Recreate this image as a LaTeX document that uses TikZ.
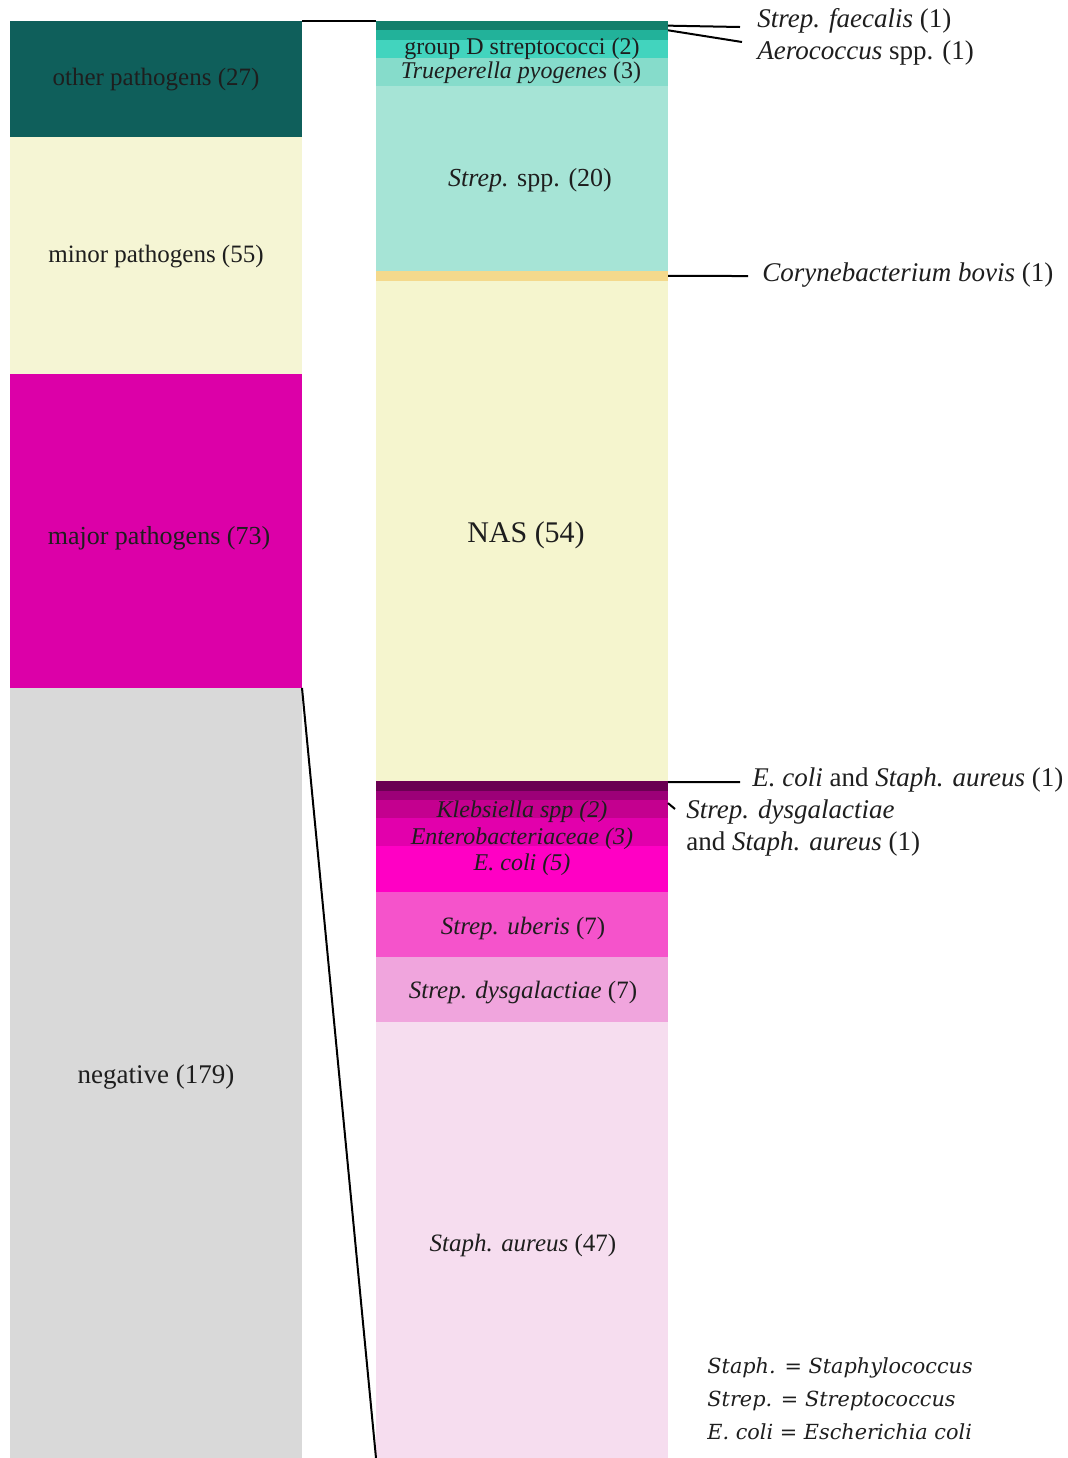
\documentclass[tikz,border=0pt]{standalone}
\usepackage{fontspec}
\setmainfont{Liberation Serif}
\newfontfamily\legendfont{DejaVu Serif}
\usepackage{tikz}
\usetikzlibrary{positioning}

\definecolor{cOther}{HTML}{0F5F5B}
\definecolor{cMinor}{HTML}{F5F5D4}
\definecolor{cMajor}{HTML}{DC00A8}
\definecolor{cNeg}{HTML}{D9D9D9}
\definecolor{cFaec}{HTML}{137F6C}
\definecolor{cAero}{HTML}{22B29A}
\definecolor{cGrpD}{HTML}{42D4BE}
\definecolor{cTrue}{HTML}{86DCCB}
\definecolor{cStrep}{HTML}{A6E4D6}
\definecolor{cCory}{HTML}{F4D98C}
\definecolor{cNAS}{HTML}{F5F5CE}
\definecolor{cEcSa}{HTML}{6A0052}
\definecolor{cSdSa}{HTML}{9C0078}
\definecolor{cKleb}{HTML}{C4008F}
\definecolor{cEnt}{HTML}{E200AC}
\definecolor{cEcoli}{HTML}{FF00C4}
\definecolor{cUber}{HTML}{F553CB}
\definecolor{cDysg}{HTML}{F0A5DD}
\definecolor{cSaur}{HTML}{F6DDEF}
\definecolor{cText}{HTML}{1E1E1E}

\begin{document}
\begin{tikzpicture}[x=0.5pt, y=-0.5pt]
		\tikzstyle{Block}	= [rectangle, draw=none, anchor=north west, inner sep=0pt, outer sep=0pt, minimum width=146pt]
		\tikzstyle{Lbl}		= [inner sep=0pt, text=cText, font=\fontsize{13}{15}\selectfont]
		\tikzstyle{Small}	= [inner sep=0pt, text=cText, font=\fontsize{12}{14}\selectfont]
		\tikzstyle{Side}	= [inner sep=0pt, anchor=west, text=cText, font=\fontsize{13.5}{16}\selectfont]
		\tikzstyle{Link}	= [line width=1pt, black]

		\useasboundingbox[fill=white] (0, 0) rectangle (1067, 1458);

		\node (oth) at (10, 21) [Block][fill=cOther, minimum height=58.1pt]{};
		\node (min) at (10, 137.2) [Block][fill=cMinor, minimum height=118.3pt]{};
		\node (maj) at (10, 373.8) [Block][fill=cMajor, minimum height=157.05pt]{};
		\node (neg) at (10, 687.9) [Block][fill=cNeg, minimum height=385.05pt]{};

		\node (faec) at (376, 21) [Block][fill=cFaec, minimum height=4.64pt]{};
		\node (aero) at (376, 30.27) [Block][fill=cAero, minimum height=4.64pt]{};
		\node (grpd) at (376, 39.54) [Block][fill=cGrpD, minimum height=9.27pt]{};
		\node (true) at (376, 58.08) [Block][fill=cTrue, minimum height=13.91pt]{};
		\node (strp) at (376, 85.89) [Block][fill=cStrep, minimum height=92.71pt]{};
		\node (cory) at (376, 271.31) [Block][fill=cCory, minimum height=4.64pt]{};
		\node (nas) at (376, 280.58) [Block][fill=cNAS, minimum height=250.32pt]{};
		\node (ecsa) at (376, 781.22) [Block][fill=cEcSa, minimum height=4.64pt]{};
		\node (sdsa) at (376, 790.49) [Block][fill=cSdSa, minimum height=4.64pt]{};
		\node (kleb) at (376, 799.76) [Block][fill=cKleb, minimum height=9.27pt]{};
		\node (ent) at (376, 818.30) [Block][fill=cEnt, minimum height=13.91pt]{};
		\node (ecol) at (376, 846.12) [Block][fill=cEcoli, minimum height=23.18pt]{};
		\node (uber) at (376, 892.47) [Block][fill=cUber, minimum height=32.45pt]{};
		\node (dysg) at (376, 957.37) [Block][fill=cDysg, minimum height=32.45pt]{};
		\node (saur) at (376, 1022.27) [Block][fill=cSaur, minimum height=217.87pt]{};

		\node (toth) at (156, 80) [Lbl][font=\fontsize{12.5}{15}\selectfont]{other pathogens (27)};
		\node (tmin) at (156, 257) [Lbl][font=\fontsize{12.5}{15}\selectfont]{minor pathogens (55)};
		\node (tmaj) at (159, 538) [Lbl]{major pathogens (73)};
		\node (tneg) at (156, 1077) [Lbl][font=\fontsize{13.5}{15}\selectfont]{negative (179)};

		\node (tgrpd) at (522, 49) [Small]{group D streptococci (2)};
		\node (ttrue) at (521, 73) [Small]{\textit{Trueperella pyogenes} (3)};
		\node (tstrp) at (530, 180) [Lbl]{\textit{Strep.} spp. (20)};
		\node (tnas) at (526, 535) [Lbl][font=\fontsize{15}{17}\selectfont]{NAS (54)};
		\node (tkleb) at (522, 812) [Small]{\textit{Klebsiella spp (2)}};
		\node (tent) at (522, 839) [Small]{\textit{Enterobacteriaceae (3)}};
		\node (tecol) at (522, 865) [Small]{\textit{E. coli (5)}};
		\node (tuber) at (523, 928) [Lbl][font=\fontsize{12.5}{15}\selectfont]{\textit{Strep. uberis} (7)};
		\node (tdysg) at (523, 993) [Lbl][font=\fontsize{12.5}{15}\selectfont]{\textit{Strep. dysgalactiae} (7)};
		\node (tsaur) at (523, 1245) [Lbl][font=\fontsize{12.5}{15}\selectfont]{\textit{Staph. aureus} (47)};

		\coordinate (efaec) at (740, 27);
		\coordinate (eaero) at (742, 42);
		\coordinate (ecory) at (748, 276);
		\coordinate (eecsa) at (740, 782);
		\coordinate (esdsa) at (675, 809);

		\node (sfaec) at (757, 21) [Side]{\textit{Strep. faecalis} (1)};
		\node (saero) at (757, 53) [Side]{\textit{Aerococcus} spp. (1)};
		\node (scory) at (762, 275) [Side]{\textit{Corynebacterium bovis} (1)};
		\node (secsa) at (752, 780) [Side]{\textit{E. coli} and \textit{Staph. aureus} (1)};
		\node (ssdsa) at (686, 828) [Side][align=left]{\textit{Strep. dysgalactiae}\\and \textit{Staph. aureus} (1)};

		\node (legend) at (707, 1399) [inner sep=0pt, anchor=west, align=left, text=cText, font=\legendfont\itshape\fontsize{10.4}{16.5}\selectfont]{Staph. = Staphylococcus\\Strep. = Streptococcus\\E. coli = Escherichia coli};

		\draw [-] (oth.north east) to (faec.north west) [Link];
		\draw [-] (maj.south east) to (saur.south west) [Link];
		\draw [-] (faec.east) to (efaec) [Link];
		\draw [-] (aero.north east) to (eaero) [Link];
		\draw [-] (cory.east) to (ecory) [Link];
		\draw [-] ([yshift=-0.4pt]ecsa.north east) to (eecsa) [Link];
		\draw [-] ([yshift=-4pt]sdsa.east) to (esdsa) [Link];
	\end{tikzpicture}
\end{document}
